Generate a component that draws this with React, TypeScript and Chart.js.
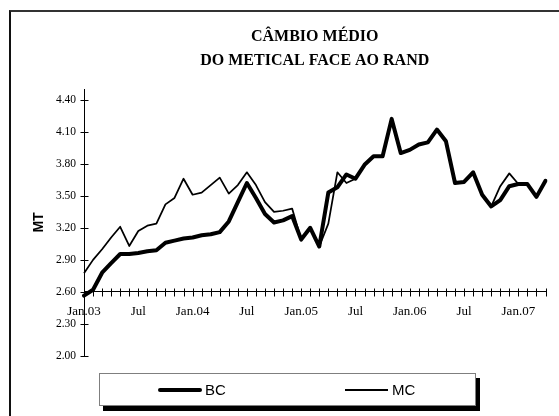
import { useEffect, useRef } from 'react';
import { Chart, registerables } from 'chart.js';

Chart.register(...registerables);

// Monthly categories, Jan 2003 – Apr 2007
const months = [
  '2003-01', '2003-02', '2003-03', '2003-04', '2003-05', '2003-06', '2003-07', '2003-08', '2003-09', '2003-10', '2003-11', '2003-12',
  '2004-01', '2004-02', '2004-03', '2004-04', '2004-05', '2004-06', '2004-07', '2004-08', '2004-09', '2004-10', '2004-11', '2004-12',
  '2005-01', '2005-02', '2005-03', '2005-04', '2005-05', '2005-06', '2005-07', '2005-08', '2005-09', '2005-10', '2005-11', '2005-12',
  '2006-01', '2006-02', '2006-03', '2006-04', '2006-05', '2006-06', '2006-07', '2006-08', '2006-09', '2006-10', '2006-11', '2006-12',
  '2007-01', '2007-02', '2007-03', '2007-04',
];

// Tick labels shown under the x axis
const xTickLabels: Record<string, string> = {
  '2003-01': 'Jan.03',
  '2003-07': 'Jul',
  '2004-01': 'Jan.04',
  '2004-07': 'Jul',
  '2005-01': 'Jan.05',
  '2005-07': 'Jul',
  '2006-01': 'Jan.06',
  '2006-07': 'Jul',
  '2007-01': 'Jan.07',
};

// BC series (thick line)
const bc = [
  2.565, 2.62, 2.78, 2.87, 2.955, 2.955, 2.965, 2.98, 2.99, 3.06,
  3.08, 3.10, 3.11, 3.13, 3.14, 3.16, 3.26, 3.44, 3.62, 3.48,
  3.33, 3.25, 3.27, 3.31, 3.09, 3.20, 3.025, 3.53, 3.58, 3.70,
  3.66, 3.79, 3.87, 3.87, 4.22, 3.90, 3.93, 3.98, 4.00, 4.12,
  4.01, 3.62, 3.63, 3.72, 3.51, 3.40, 3.46, 3.59, 3.61, 3.61,
  3.49, 3.64,
];

// MC series (thin line)
const mc = [
  2.775, 2.90, 3.00, 3.11, 3.21, 3.03, 3.17, 3.22, 3.24, 3.42,
  3.48, 3.66, 3.51, 3.53, 3.60, 3.67, 3.52, 3.60, 3.72, 3.60,
  3.44, 3.35, 3.36, 3.38, 3.09, 3.20, 3.025, 3.24, 3.72, 3.62,
  3.66, 3.79, 3.87, 3.87, 4.22, 3.90, 3.93, 3.98, 4.00, 4.12,
  4.01, 3.62, 3.63, 3.72, 3.51, 3.40, 3.59, 3.71, 3.61, 3.61,
  3.49, 3.64,
];

const yTicks = [2.0, 2.3, 2.6, 2.9, 3.2, 3.5, 3.8, 4.1, 4.4];
const yMin = 2.0;
const yMax = 4.5;
const xAxisCross = 2.6;

const titleLines = ['CÂMBIO MÉDIO', 'DO METICAL FACE AO RAND'];
const yTitle = 'MT';
const seriesNames = ['BC', 'MC'];

const crossTicks = {
  id: 'crossTicks',
  beforeDatasetsDraw(chart: any) {
    const { ctx, scales, chartArea } = chart;
    const x = scales.x;
    const y = scales.y;
    const y0 = Math.round(y.getPixelForValue(xAxisCross)) + 0.5;
    const x0 = Math.round(chartArea.left) + 0.5;
    ctx.save();
    ctx.strokeStyle = '#000';
    ctx.lineWidth = 1;
    ctx.beginPath();
    x.ticks.forEach((_t: any, i: number) => {
      const px = Math.round(x.getPixelForTick(i)) + 0.5;
      ctx.moveTo(px, y0 - 4);
      ctx.lineTo(px, y0 + 4);
    });
    y.ticks.forEach((t: any) => {
      const py = Math.round(y.getPixelForValue(t.value)) + 0.5;
      ctx.moveTo(x0 - 4, py);
      ctx.lineTo(x0 + 4, py);
    });
    ctx.stroke();
    ctx.restore();
  },
};

export default function App() {
  const ref = useRef<HTMLCanvasElement>(null);

  useEffect(() => {
    const chart = new Chart(ref.current as HTMLCanvasElement, {
      type: 'line',
      data: {
        labels: months,
        datasets: [
          {
            label: seriesNames[0],
            data: bc,
            borderColor: '#000',
            borderWidth: 4,
            pointRadius: 0,
            tension: 0,
            borderJoinStyle: 'round',
            borderCapStyle: 'round',
            fill: false,
          },
          {
            label: seriesNames[1],
            data: mc,
            borderColor: '#000',
            borderWidth: 1.75,
            pointRadius: 0,
            tension: 0,
            borderJoinStyle: 'round',
            fill: false,
          },
        ],
      },
      options: {
        responsive: false,
        maintainAspectRatio: false,
        devicePixelRatio: 1,
        animation: false,
        layout: { padding: { left: 31, top: 0, right: 13.5, bottom: 60 } },
        plugins: {
          legend: { display: false },
          tooltip: { enabled: false },
          title: {
            display: true,
            text: titleLines,
            fullSize: false,
            color: '#000',
            font: { family: '"Liberation Serif", "Times New Roman", serif', size: 16, weight: 'bold', lineHeight: 1.5 },
            padding: { top: 25, bottom: 16 },
          },
        },
        scales: {
          x: {
            type: 'category',
            position: { y: xAxisCross } as any,
            offset: false,
            grid: { display: false },
            border: { display: true, color: '#000', width: 1 },
            ticks: {
              autoSkip: false,
              maxRotation: 0,
              minRotation: 0,
              padding: 4,
              color: '#000',
              font: { family: '"Liberation Serif", "Times New Roman", serif', size: 13 },
              callback: (_v: any, i: number) => xTickLabels[months[i]] ?? '',
            },
          },
          y: {
            type: 'linear',
            position: 'left',
            min: yMin,
            max: yMax,
            grid: { display: false },
            border: { display: true, color: '#000', width: 1 },
            afterFit: (s: any) => {
              s.width = 53;
            },
            afterBuildTicks: (s: any) => {
              s.ticks = yTicks.map((v) => ({ value: v }));
            },
            ticks: {
              padding: 0,
              color: '#000',
              font: { family: '"Liberation Serif", "Times New Roman", serif', size: 11.5 },
              callback: (v: any) => Number(v).toFixed(2),
            },
            title: {
              display: true,
              text: yTitle,
              color: '#000',
              padding: 0,
              font: { family: '"Liberation Sans", Arial, sans-serif', size: 14, weight: 'bold' },
            },
          },
        },
      },
      plugins: [crossTicks],
    } as any);
    return () => chart.destroy();
  }, []);

  const legendFont = '"Liberation Sans", Arial, sans-serif';

  return (
    <div style={{ position: 'absolute', left: 0, top: 0, width: 559, height: 416, overflow: 'hidden', background: '#fff' }}>
      <div
        style={{
          position: 'absolute',
          left: 9,
          top: 10,
          right: -10,
          bottom: -10,
          borderTop: '2px solid #333',
          borderLeft: '2px solid #111',
        }}
      />
      <canvas ref={ref} width={559} height={416} style={{ position: 'absolute', left: 0, top: 0, width: 559, height: 416 }} />
      <div
        style={{
          position: 'absolute',
          left: 99,
          top: 373,
          width: 377,
          height: 33,
          boxSizing: 'border-box',
          border: '1px solid #7f7f7f',
          boxShadow: '4px 5px 0 #000',
          background: '#fff',
          fontFamily: legendFont,
          fontSize: 15,
          color: '#000',
        }}
      >
        <div style={{ position: 'absolute', left: 58, top: 14, width: 44, height: 4, background: '#000', borderRadius: 2 }} />
        <span style={{ position: 'absolute', left: 105, top: 0, lineHeight: '31px' }}>{seriesNames[0]}</span>
        <div style={{ position: 'absolute', left: 245, top: 15, width: 43, height: 1.5, background: '#000' }} />
        <span style={{ position: 'absolute', left: 292, top: 0, lineHeight: '31px' }}>{seriesNames[1]}</span>
      </div>
    </div>
  );
}
